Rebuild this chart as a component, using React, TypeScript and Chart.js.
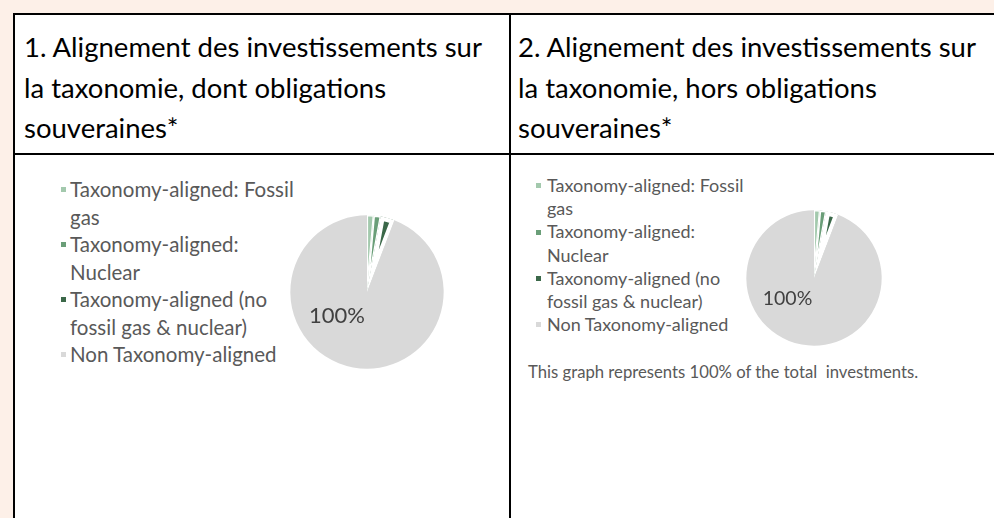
import React, { useEffect, useRef } from "react";
import { Chart, registerables } from "chart.js";

Chart.register(...registerables);

const categories = [
  "Taxonomy-aligned: Fossil gas",
  "Taxonomy-aligned: Nuclear",
  "Taxonomy-aligned (no fossil gas & nuclear)",
  "Non Taxonomy-aligned",
];
const legendLines = [
  ["Taxonomy-aligned: Fossil", "gas"],
  ["Taxonomy-aligned:", "Nuclear"],
  ["Taxonomy-aligned (no", "fossil gas & nuclear)"],
  ["Non Taxonomy-aligned"],
];
const valuesInclSovereign = [1.4, 1.5, 2.9, 94.2];
const valuesExclSovereign = [1.4, 1.5, 2.9, 94.2];
const sliceLabels = ["", "", "", "100%"];
const sliceColors = ["#a3c9ad", "#6a9e78", "#3b6849", "#d9d9d9"];
const sliceBorders = [1.1, 1.3, 4, 0];
const titleLeft = ["1. Alignement des investissements sur", "la taxonomie, dont obligations", "souveraines*"];
const titleRight = ["2. Alignement des investissements sur", "la taxonomie, hors obligations", "souveraines*"];
const footnote = "This graph represents 100% of the total\u00a0 investments.";

const FONT = "Lato, 'Open Sans', sans-serif";

function Pie({ values, size, labelSize }: { values: number[]; size: number; labelSize: number }) {
  const ref = useRef<HTMLCanvasElement | null>(null);
  useEffect(() => {
    if (!ref.current) return;
    const labelPlugin = {
      id: "sliceLabel",
      afterDatasetsDraw(chart: any) {
        const meta = chart.getDatasetMeta(0);
        const ctx = chart.ctx;
        ctx.save();
        ctx.font = `${labelSize}px ${FONT}`;
        ctx.fillStyle = "#404040";
        ctx.textAlign = "center";
        ctx.textBaseline = "middle";
        meta.data.forEach((arc: any, i: number) => {
          const t = sliceLabels[i];
          if (!t) return;
          const r = arc.outerRadius;
          ctx.fillText(t, arc.x - 0.39 * r, arc.y + 0.31 * r);
        });
        ctx.restore();
      },
    };
    const chart = new Chart(ref.current, {
      type: "pie",
      data: {
        labels: categories,
        datasets: [
          {
            data: values,
            backgroundColor: sliceColors,
            borderColor: "#ffffff",
            borderWidth: sliceBorders,
            borderAlign: "inner",
          } as any,
        ],
      },
      options: {
        animation: false,
        responsive: false,
        maintainAspectRatio: false,
        layout: { padding: 0 },
        plugins: { legend: { display: false }, tooltip: { enabled: false } },
      },
      plugins: [labelPlugin],
    });
    return () => chart.destroy();
  }, [values, size, labelSize]);
  return <canvas ref={ref} width={size} height={size} style={{ width: size, height: size, display: "block" }} />;
}

function Legend({ fontSize, lineHeight, marker, gap }: { fontSize: number; lineHeight: number; marker: number; gap: number }) {
  return (
    <div style={{ fontFamily: FONT, fontSize, lineHeight: `${lineHeight}px`, color: "#595959" }}>
      {legendLines.map((lines, i) => (
        <div key={categories[i]} style={{ position: "relative", paddingLeft: marker + gap }}>
          <span
            style={{
              position: "absolute",
              left: 0,
              top: lineHeight / 2 - marker / 2,
              width: marker,
              height: marker,
              background: sliceColors[i],
            }}
          />
          {lines.map((l) => (
            <div key={l} style={{ whiteSpace: "nowrap" }}>{l}</div>
          ))}
        </div>
      ))}
    </div>
  );
}

export default function App() {
  const abs = (l: number, t: number, w: number, h: number, bg: string): React.CSSProperties => ({
    position: "absolute",
    left: l,
    top: t,
    width: w,
    height: h,
    background: bg,
  });
  const titleStyle = (left: number): React.CSSProperties => ({
    position: "absolute",
    left,
    top: 27,
    fontFamily: FONT,
    fontSize: 27.5,
    lineHeight: "40.5px",
    color: "#000",
  });
  return (
    <div style={{ position: "fixed", left: 0, top: 0, width: 994, height: 518, background: "#fdf0e8", overflow: "hidden" }}>
      <div style={abs(13, 13, 981, 505, "#ffffff")} />
      <div style={abs(13, 13, 2, 505, "#000")} />
      <div style={abs(13, 13, 981, 2, "#000")} />
      <div style={abs(509, 13, 2, 505, "#000")} />
      <div style={abs(13, 153, 981, 2, "#000")} />

      <div style={titleStyle(24)}>
        {titleLeft.map((l) => (
          <div key={l} style={{ whiteSpace: "nowrap" }}>{l}</div>
        ))}
      </div>
      <div style={titleStyle(518)}>
        {titleRight.map((l) => (
          <div key={l} style={{ whiteSpace: "nowrap" }}>{l}</div>
        ))}
      </div>

      <div style={{ position: "absolute", left: 61, top: 176 }}>
        <Legend fontSize={20.5} lineHeight={27.5} marker={5} gap={4} />
      </div>
      <div style={{ position: "absolute", left: 290, top: 215 }}>
        <Pie values={valuesInclSovereign} size={154} labelSize={22} />
      </div>

      <div style={{ position: "absolute", left: 536, top: 174 }}>
        <Legend fontSize={18} lineHeight={23.2} marker={5} gap={6} />
      </div>
      <div style={{ position: "absolute", left: 746, top: 210 }}>
        <Pie values={valuesExclSovereign} size={136} labelSize={19.5} />
      </div>
      <div style={{ position: "absolute", left: 528, top: 362, fontFamily: FONT, fontSize: 16.7, lineHeight: "20px", color: "#595959", whiteSpace: "nowrap" }}>
        {footnote}
      </div>
    </div>
  );
}
